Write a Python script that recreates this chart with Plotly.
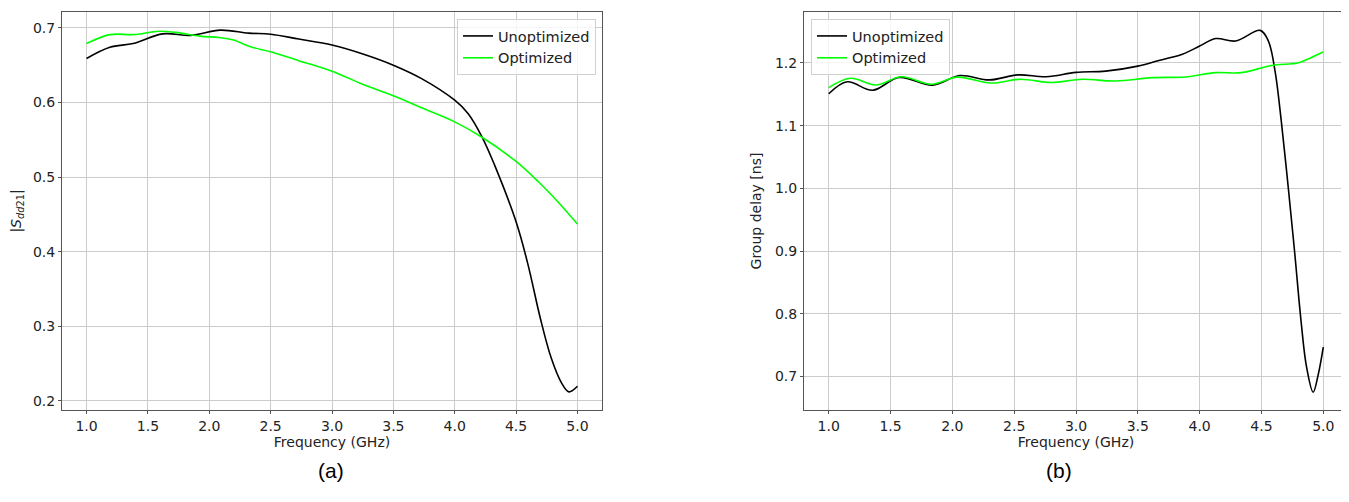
import plotly.graph_objects as go

# ---- Data ----
# (a) |Sdd21|
fa_unopt = [1.0, 1.19, 1.38, 1.62, 1.85, 2.09, 2.32, 2.5, 2.73, 3.0, 3.27, 3.50, 3.73,
            4.0, 4.11, 4.225, 4.325, 4.5, 4.595, 4.70, 4.785, 4.87, 4.93, 5.0]
sa_unopt = [0.659, 0.674, 0.679, 0.692, 0.690, 0.697, 0.693, 0.6915, 0.685, 0.677, 0.664, 0.650, 0.632,
            0.603, 0.585, 0.553, 0.516, 0.440, 0.384, 0.309, 0.258, 0.224, 0.212, 0.2195]
fa_opt = [1.0, 1.19, 1.38, 1.59, 1.73, 1.92, 2.08, 2.19, 2.35, 2.5, 2.73, 3.0, 3.27, 3.50, 3.73,
          4.0, 4.225, 4.5, 4.68, 4.84, 5.0]
sa_opt = [0.679, 0.691, 0.691, 0.6955, 0.694, 0.689, 0.687, 0.684, 0.674, 0.668, 0.656, 0.642, 0.623, 0.609, 0.593,
          0.574, 0.553, 0.521, 0.494, 0.467, 0.437]

# (b) Group delay [ns]
fb_unopt = [1.0, 1.15, 1.355, 1.57, 1.84, 2.06, 2.30, 2.53, 2.76, 3.0, 3.24, 3.5, 3.67, 3.86,
            4.0, 4.13, 4.29, 4.49, 4.556, 4.61, 4.66, 4.717, 4.77, 4.82, 4.865, 4.918, 4.96, 5.0]
gd_unopt = [1.151, 1.170, 1.1565, 1.177, 1.1645, 1.180, 1.173, 1.181, 1.178, 1.185, 1.187, 1.195, 1.204, 1.214,
            1.227, 1.239, 1.235, 1.252, 1.235, 1.187, 1.108, 1.001, 0.895, 0.789, 0.715, 0.675, 0.704, 0.747]
fb_opt = [1.0, 1.175, 1.38, 1.59, 1.83, 2.04, 2.31, 2.55, 2.80, 3.05, 3.32, 3.62, 3.885,
          4.13, 4.34, 4.58, 4.80, 4.9, 5.0]
gd_opt = [1.1607, 1.1756, 1.165, 1.178, 1.166, 1.1775, 1.168, 1.174, 1.169, 1.174, 1.1713, 1.1766, 1.1777,
          1.1846, 1.1846, 1.196, 1.2005, 1.2085, 1.2175]

x_ticks = [1.0, 1.5, 2.0, 2.5, 3.0, 3.5, 4.0, 4.5, 5.0]
ya_ticks = [0.2, 0.3, 0.4, 0.5, 0.6, 0.7]
yb_ticks = [0.7, 0.8, 0.9, 1.0, 1.1, 1.2]
series_names = ["Unoptimized", "Optimized"]
colors = ["#000000", "#00ff00"]

# page body has an 8px margin; figure drawn at (8,8)
OFF = 8
W, H = 1341, 494
FONT = "DejaVu Sans"


def px(x):
    return (x - OFF) / W


def py(y):
    return (H - (y - OFF)) / H


line_kw = dict(width=1.6, shape="spline", smoothing=1.0)

fig = go.Figure()
fig.add_trace(go.Scatter(x=fa_unopt, y=sa_unopt, mode="lines", name=series_names[0],
                         line=dict(color=colors[0], **line_kw),
                         xaxis="x", yaxis="y", legend="legend"))
fig.add_trace(go.Scatter(x=fa_opt, y=sa_opt, mode="lines", name=series_names[1],
                         line=dict(color=colors[1], **line_kw),
                         xaxis="x", yaxis="y", legend="legend"))
fig.add_trace(go.Scatter(x=fb_unopt, y=gd_unopt, mode="lines", name=series_names[0],
                         line=dict(color=colors[0], **line_kw),
                         xaxis="x2", yaxis="y2", legend="legend2"))
fig.add_trace(go.Scatter(x=fb_opt, y=gd_opt, mode="lines", name=series_names[1],
                         line=dict(color=colors[1], **line_kw),
                         xaxis="x2", yaxis="y2", legend="legend2"))

ydom = [py(410), py(12)]
axis_common = dict(showgrid=True, gridcolor="#cccccc", gridwidth=1,
                   showline=True, linecolor="#555555", linewidth=1, mirror=True,
                   ticks="outside", ticklen=3, tickcolor="#555555",
                   tickfont=dict(family=FONT, size=14, color="#222222"),
                   zeroline=False, tickformat=".1f", automargin=False)
title_font = dict(family=FONT, size=14, color="#222222")

fig.update_layout(
    width=W, height=H,
    margin=dict(l=0, r=0, t=0, b=0),
    paper_bgcolor="white", plot_bgcolor="white",
    font=dict(family=FONT, size=14, color="#222222"),
    xaxis=dict(domain=[px(62), px(602)], range=[0.8, 5.2], tickvals=x_ticks, anchor="y",
               title=dict(text="Frequency (GHz)", font=title_font, standoff=3),
               **axis_common),
    yaxis=dict(domain=ydom, range=[0.1877, 0.7213], tickvals=ya_ticks, anchor="x",
               title=dict(text="|<i>S</i><sub><i>dd</i>21</sub>|", font=title_font, standoff=11),
               **axis_common),
    xaxis2=dict(domain=[px(804), px(1348)], range=[0.8, 5.2], tickvals=x_ticks, anchor="y2",
                title=dict(text="Frequency (GHz)", font=title_font, standoff=3),
                **axis_common),
    yaxis2=dict(domain=ydom, range=[0.6467, 1.2813], tickvals=yb_ticks, anchor="x2",
                title=dict(text="Group delay [ns]", font=title_font, standoff=10),
                **axis_common),
    legend=dict(x=px(596), y=py(19), xanchor="right", yanchor="top",
                bgcolor="rgba(255,255,255,0.8)", bordercolor="#d0d0d0", borderwidth=1,
                font=dict(family=FONT, size=14.5, color="#222222"), tracegroupgap=0),
    legend2=dict(x=px(811), y=py(19), xanchor="left", yanchor="top",
                 bgcolor="rgba(255,255,255,0.8)", bordercolor="#d0d0d0", borderwidth=1,
                 font=dict(family=FONT, size=14.5, color="#222222"), tracegroupgap=0),
    annotations=[
        dict(text="(a)", x=px(331), y=py(470), xref="paper", yref="paper",
             xanchor="center", yanchor="middle",
             showarrow=False, font=dict(family="Liberation Sans", size=21, color="#000000")),
        dict(text="(b)", x=px(1059), y=py(470), xref="paper", yref="paper",
             xanchor="center", yanchor="middle",
             showarrow=False, font=dict(family="Liberation Sans", size=21, color="#000000")),
    ],
)

fig.write_html("out.html")
